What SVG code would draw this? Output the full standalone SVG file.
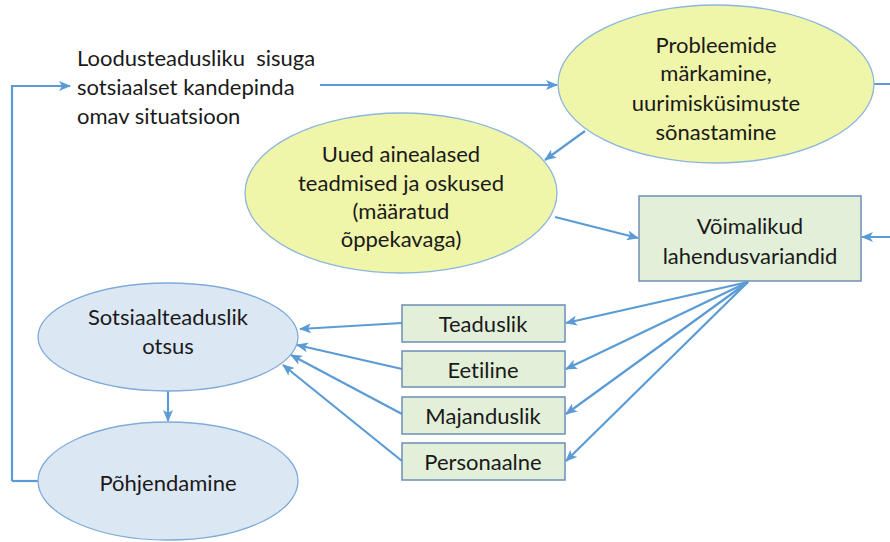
<svg xmlns="http://www.w3.org/2000/svg" width="890" height="542" viewBox="0 0 890 542">
<defs>
<marker id="ah" viewBox="0 0 12 10" markerWidth="12" markerHeight="10" refX="11" refY="5" orient="auto" markerUnits="userSpaceOnUse">
<path d="M0,0 L12,5 L0,10 L3,5 Z" fill="#5b9bd5"/>
</marker>
<style>
text{font-family:Lato,"Liberation Sans",sans-serif;font-size:22px;fill:#1a1a1a;text-anchor:middle;dominant-baseline:central;font-variant-ligatures:none;white-space:pre}
.y{fill:#eff5a9;stroke:#8cb6de;stroke-width:1.3}
.b{fill:#dce7f4;stroke:#7eabd9;stroke-width:1.3}
.g{fill:#e2efd9;stroke:#6d8fb6;stroke-width:1.5}
.c{fill:none;stroke:#5b9bd5;stroke-width:2.2}
.a{marker-end:url(#ah)}
</style>
</defs>
<g id="connectors">
<path class="c a" d="M12,481 L12,86 L70,86"/>
<path class="c" d="M12,481 L38,481"/>
<path class="c a" d="M320,85 L557,85"/>
<path class="c a" d="M873,84 L895,84 L895,237 L862,237"/>
<path class="c a" d="M585,131 L545,160"/>
<path class="c a" d="M555,217 L638,238"/>
<path class="c a" d="M748,282 L566,323"/>
<path class="c a" d="M748,282 L566,369"/>
<path class="c a" d="M748,282 L566,414"/>
<path class="c a" d="M748,282 L566,461"/>
<path class="c a" d="M402,323 L300,329"/>
<path class="c a" d="M402,369 L297,345"/>
<path class="c a" d="M402,414 L291,355"/>
<path class="c a" d="M402,461 L283,365"/>
<path class="c a" d="M168,391 L168,421"/>
</g>
<g id="situatsioon">
<text x="77" y="57" style="text-anchor:start" xml:space="preserve">Loodusteadusliku  sisuga</text>
<text x="77" y="86" style="text-anchor:start">sotsiaalset kandepinda</text>
<text x="77" y="115" style="text-anchor:start">omav situatsioon</text>
</g>
<g id="probleemide">
<ellipse class="y" cx="716" cy="84" rx="158" ry="79"/>
<text x="716" y="44">Probleemide</text>
<text x="716" y="72">märkamine,</text>
<text x="716" y="102">uurimisküsimuste</text>
<text x="716" y="131">sõnastamine</text>
</g>
<g id="uued">
<ellipse class="y" cx="401" cy="193" rx="156" ry="80"/>
<text x="401" y="153">Uued ainealased</text>
<text x="401" y="182">teadmised ja oskused</text>
<text x="401" y="210">(määratud</text>
<text x="401" y="238">õppekavaga)</text>
</g>
<g id="voimalikud">
<rect class="g" x="639" y="196" width="222" height="85"/>
<text x="750" y="225">Võimalikud</text>
<text x="750" y="255">lahendusvariandid</text>
</g>
<g id="teaduslik">
<rect class="g" x="402" y="305" width="163" height="37"/>
<text x="483" y="323">Teaduslik</text>
</g>
<g id="eetiline">
<rect class="g" x="402" y="351" width="163" height="36"/>
<text x="483" y="369">Eetiline</text>
</g>
<g id="majanduslik">
<rect class="g" x="402" y="397" width="163" height="37"/>
<text x="483" y="415">Majanduslik</text>
</g>
<g id="personaalne">
<rect class="g" x="402" y="443" width="163" height="37"/>
<text x="483" y="461">Personaalne</text>
</g>
<g id="sotsiaalteaduslik">
<ellipse class="b" cx="168" cy="337" rx="130" ry="54"/>
<text x="168" y="316">Sotsiaalteaduslik</text>
<text x="168" y="345">otsus</text>
</g>
<g id="pohjendamine">
<ellipse class="b" cx="168" cy="481" rx="130" ry="59"/>
<text x="168" y="482">Põhjendamine</text>
</g>
</svg>
